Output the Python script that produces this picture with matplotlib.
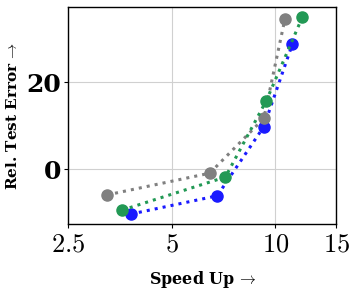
import matplotlib
matplotlib.use("Agg")
import matplotlib.pyplot as plt
from matplotlib.ticker import NullLocator, FixedLocator, FixedFormatter

plt.rcParams['mathtext.fontset'] = 'cm'
plt.rcParams['font.family'] = 'serif'
plt.rcParams['font.serif'] = ['DejaVu Serif']

gray_x = [3.24, 6.44, 9.25, 10.65]
gray_y = [-5.9, -0.9, 11.7, 34.5]
green_x = [3.58, 7.15, 9.41, 11.96]
green_y = [-9.4, -1.8, 15.8, 34.9]
blue_x = [3.80, 6.77, 9.25, 11.19]
blue_y = [-10.3, -6.1, 9.8, 28.7]

xticks = [2.5, 5, 10, 15]
xticklabels = ['$2.5$', '$5$', '$10$', '$15$']
yticks = [0, 20]
yticklabels = ['0', '20']

fig = plt.figure(figsize=(3.56, 2.96), dpi=100)
ax = fig.add_axes([0.192, 0.243, 0.752, 0.732])

ax.plot(blue_x, blue_y, ':', color='#1a1aff', lw=2.2, marker='o', ms=8, zorder=3)
ax.plot(gray_x, gray_y, ':', color='#808080', lw=2.2, marker='o', ms=8, zorder=3)
ax.plot(green_x, green_y, ':', color='#229955', lw=2.2, marker='o', ms=8, zorder=3)

ax.set_xscale('log')
ax.set_xlim(2.5, 15)
ax.set_ylim(-12.6, 37.2)
ax.xaxis.set_major_locator(FixedLocator(xticks))
ax.xaxis.set_major_formatter(FixedFormatter(xticklabels))
ax.xaxis.set_minor_locator(NullLocator())
ax.set_yticks(yticks)
ax.set_yticklabels(yticklabels, fontweight='bold', fontsize=18)
ax.tick_params(axis='x', labelsize=19)
ax.tick_params(axis='both', length=3, width=0.8, pad=2)
ax.grid(True, color='#d0d0d0', lw=0.8, zorder=0)
ax.set_axisbelow(True)
for s in ax.spines.values():
    s.set_linewidth(1.0)

ax.set_xlabel(r'Speed Up$\,\rightarrow$', fontsize=11.5, fontweight='bold', labelpad=9)
ax.set_ylabel(r'Rel. Test Error$\,\rightarrow$', fontsize=11, fontweight='bold', labelpad=5)

fig.savefig('out.png', dpi=100)
